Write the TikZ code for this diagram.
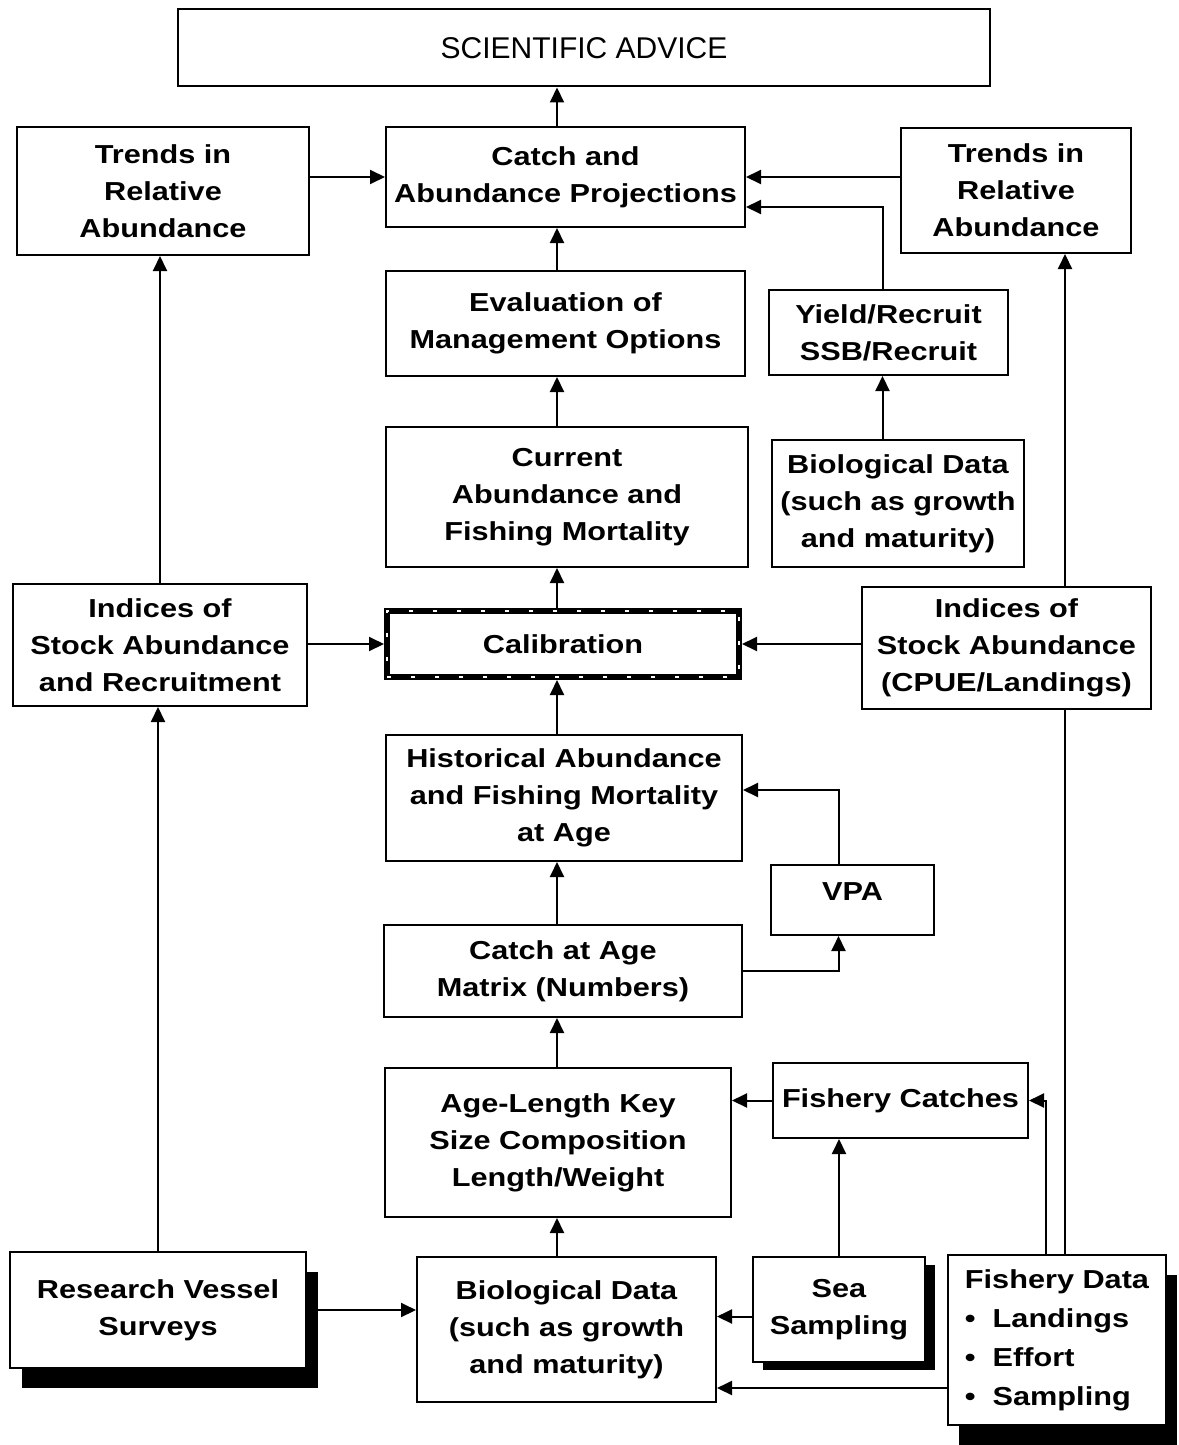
\documentclass[tikz,border=0pt]{standalone}
\usepackage{fontspec}
\setmainfont{Liberation Sans}[FakeStretch=1.18]
\newfontfamily\advfont{Liberation Sans}
\usetikzlibrary{arrows.meta,shadows}

\begin{document}
\begin{tikzpicture}[x=0.5pt,y=-0.5pt,
  box/.style={draw,line width=1pt,fill=white,align=center,inner sep=2pt,
    font=\bfseries\fontsize{13}{18.5}\selectfont},
  calbox/.style={box,line width=3pt,
    postaction={draw=white,line width=0.6pt,dash pattern=on 2pt off 10pt}},
  shad/.style 2 args={drop shadow={shadow xshift=#1,shadow yshift=#2,fill=black,opacity=1}},
  arr/.style={line width=1pt,-{Triangle[length=7.5pt,width=7pt]}},
  link/.style={line width=1pt}]
  \useasboundingbox (0,0) rectangle (1178,1445);
  \coordinate (spine) at (557,0);
  \coordinate (fx) at (1065,0);
  % top rows
  \node[box,minimum width=406pt,minimum height=38.5pt,font=\advfont\fontsize{15}{18}\selectfont] (advice) at (584,48) {SCIENTIFIC ADVICE};
  \node[box,minimum width=146pt,minimum height=64pt] (tleft) at (163,191) {Trends in\\Relative\\Abundance};
  \node[box,minimum width=179.5pt,minimum height=50pt] (proj) at (565.5,177) {Catch and\\Abundance Projections};
  \node[box,minimum width=115pt,minimum height=62.5pt] (trgt) at (1016,190.5) {Trends in\\Relative\\Abundance};
  \node[box,minimum width=179.5pt,minimum height=52.5pt] (eval) at (565.5,323.5) {Evaluation of\\Management Options};
  \node[box,minimum width=119.5pt,minimum height=42.5pt] (yield) at (888.5,332.5) {Yield/Recruit\\SSB/Recruit};
  \node[box,minimum width=181pt,minimum height=70pt] (curr) at (567,497) {Current\\Abundance and\\Fishing Mortality};
  \node[box,minimum width=126pt,minimum height=63.5pt] (bior) at (898,503.5) {Biological Data\\(such as growth\\and maturity)};
  % middle rows
  \node[box,minimum width=147pt,minimum height=61pt] (ileft) at (160,645) {Indices of\\Stock Abundance\\and Recruitment};
  \node[calbox,minimum width=176pt,minimum height=33pt] (calib) at (563,644) {Calibration};
  \node[box,minimum width=144.5pt,minimum height=61pt] (irgt) at (1006.5,648) {Indices of\\Stock Abundance\\(CPUE/Landings)};
  \node[box,minimum width=178pt,minimum height=63pt] (hist) at (564,798) {Historical Abundance\\and Fishing Mortality\\at Age};
  \node[box,minimum width=81.5pt,minimum height=35pt,text depth=8pt] (vpa) at (852.5,900) {VPA};
  \node[box,minimum width=179pt,minimum height=46pt] (caa) at (563,971) {Catch at Age\\Matrix (Numbers)};
  \node[box,minimum width=173pt,minimum height=74.5pt] (alk) at (558,1142.5) {Age-Length Key\\Size Composition\\Length/Weight};
  \node[box,minimum width=127.5pt,minimum height=37.5pt] (fcatch) at (900.5,1100.5) {Fishery Catches};
  % data sources
  \node[box,shad={6pt}{-10pt},minimum width=148pt,minimum height=58pt] (rvs) at (158,1310) {Research Vessel\\Surveys};
  \node[box,minimum width=149.5pt,minimum height=72.5pt] (biob) at (566.5,1329.5) {Biological Data\\(such as growth\\and maturity)};
  \node[box,shad={5pt}{-4pt},minimum width=86pt,minimum height=52.5pt] (sea) at (839,1309.5) {Sea\\Sampling};
  \node[box,shad={5.5pt}{-10pt},align=left,font=\bfseries\fontsize{13}{19.5}\selectfont,minimum width=109pt,minimum height=85pt] (fdata) at (1057,1340)
    {Fishery Data\\\textbullet\ \ Landings\\\textbullet\ \ Effort\\\textbullet\ \ Sampling};
  % connectors
  \draw[arr] (proj.north -| spine) -- (advice.south -| spine);
  \draw[arr] (tleft.east |- proj.west) -- (proj.west);
  \draw[arr] (trgt.west |- proj.east) -- (proj.east);
  \draw[arr] ([xshift=-3pt]yield.north) |- ([yshift=-15pt]proj.east);
  \draw[arr] (eval.north -| spine) -- (proj.south -| spine);
  \draw[arr] (curr.north -| spine) -- (eval.south -| spine);
  \draw[arr] ([xshift=-3pt]bior.north -| yield.north) -- ([xshift=-3pt]yield.south);
  \draw[arr] (calib.north -| spine) -- (curr.south -| spine);
  \draw[arr] (ileft.east |- calib.west) -- (calib.west);
  \draw[arr] (irgt.west |- calib.east) -- (calib.east);
  \draw[arr] (ileft.north) -- (ileft.north |- tleft.south);
  \draw[arr] (irgt.north -| fx) -- (trgt.south -| fx);
  \draw[link] (fdata.north -| fx) -- (irgt.south -| fx);
  \draw[arr] (hist.north -| spine) -- (calib.south -| spine);
  \draw[arr] ([xshift=-7pt]vpa.north) |- ([yshift=4pt]hist.east);
  \draw[arr] (caa.north -| spine) -- (hist.south -| spine);
  \draw[arr] (caa.east) -| ([xshift=-7pt]vpa.south);
  \draw[arr] (alk.north -| spine) -- (caa.south -| spine);
  \draw[arr] (fcatch.west) -- (fcatch.west -| alk.east);
  \draw[arr] (sea.north) -- (sea.north |- fcatch.south);
  \draw[arr] ([xshift=-5.5pt]fdata.north) |- (fcatch.east);
  \draw[arr] (biob.north -| spine) -- (alk.south -| spine);
  \draw[arr] (rvs.east) -- (rvs.east -| biob.west);
  \draw[arr] ([yshift=-3.5pt]sea.west) -- ([yshift=-3.5pt]sea.west -| biob.east);
  \coordinate (fdb) at ([yshift=7.5pt]biob.south east);
  \draw[arr] (fdata.west |- fdb) -- (fdb);
  \draw[arr] (rvs.north) -- (rvs.north |- ileft.south);
\end{tikzpicture}
\end{document}
